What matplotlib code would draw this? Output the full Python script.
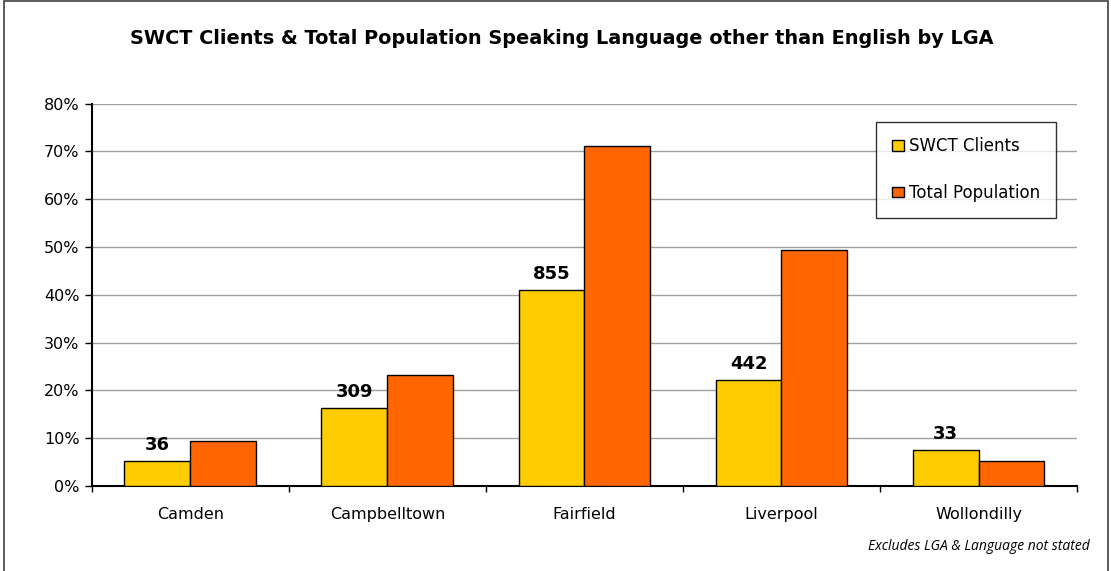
import matplotlib
matplotlib.use("Agg")
import matplotlib.pyplot as plt
from matplotlib.patches import Rectangle
from matplotlib.ticker import FixedLocator, PercentFormatter
import numpy as np

plt.rcParams["font.family"] = ["DejaVu Sans"]

lgas = ["Camden", "Campbelltown", "Fairfield", "Liverpool", "Wollondilly"]
swct_pct = [5.2, 16.3, 41.0, 22.1, 7.5]
total_pct = [9.5, 23.2, 71.2, 49.4, 5.2]
swct_counts = [36, 309, 855, 442, 33]

fig = plt.figure(figsize=(11.11, 5.71), dpi=100)
ax = fig.add_axes([0.0828, 0.149, 0.8866, 0.6695])

x = np.arange(len(lgas))
w = 0.335
b1 = ax.bar(x - w / 2, swct_pct, w, color="#ffcc00", edgecolor="black",
            linewidth=1, label="SWCT Clients", zorder=3)
b2 = ax.bar(x + w / 2, total_pct, w, color="#ff6600", edgecolor="black",
            linewidth=1, label="Total Population", zorder=3)

# client counts above the SWCT bars
for rect, n in zip(b1, swct_counts):
    ax.annotate(str(n), (rect.get_x() + rect.get_width() / 2, rect.get_height()),
                xytext=(0, 5), textcoords="offset points", ha="center",
                va="bottom", fontsize=13, fontweight="bold")

ax.set_xlim(-0.5, len(lgas) - 0.5)
ax.set_ylim(0, 80)
ax.set_yticks(range(0, 81, 10))
ax.yaxis.set_major_formatter(PercentFormatter(decimals=0))
ax.grid(axis="y", color="#a0a0a0", linewidth=1, zorder=0)

ax.set_xticks(x)
ax.set_xticklabels(lgas)
ax.xaxis.set_minor_locator(FixedLocator(np.arange(-0.5, len(lgas), 1.0)))
ax.tick_params(axis="x", which="major", length=0, pad=15, labelsize=11.5)
ax.tick_params(axis="x", which="minor", length=4, width=1, direction="out")
ax.tick_params(axis="y", length=5, width=1, direction="out", labelsize=11.5, pad=4)

for side in ("top", "right"):
    ax.spines[side].set_visible(False)
for side in ("left", "bottom"):
    ax.spines[side].set_linewidth(1.5)
    ax.spines[side].set_color("black")

leg = ax.legend(loc="upper left", bbox_to_anchor=(0.796, 0.953), fontsize=12,
                frameon=True, fancybox=False, edgecolor="black", handlelength=0.75,
                handleheight=0.6, handletextpad=0.3, labelspacing=1.7,
                borderpad=0.95, borderaxespad=0)
leg.get_frame().set_linewidth(1)

fig.text(562 / 1111, 1 - 38 / 571, "SWCT Clients & Total Population Speaking Language other than English by LGA",
         ha="center", va="center", fontsize=13.9, fontweight="bold")
fig.text(0.981, 1 - 546 / 571, "Excludes LGA & Language not stated",
         ha="right", va="center", fontsize=10, style="italic", family=["Open Sans", "DejaVu Sans"])

# outer chart frame
fig.add_artist(Rectangle((4 / 1111, -0.05), 1104 / 1111, 1.05 - 1.5 / 571,
                         transform=fig.transFigure, fill=False,
                         edgecolor="#404040", linewidth=1.2))

fig.savefig("out.png", dpi=100)
